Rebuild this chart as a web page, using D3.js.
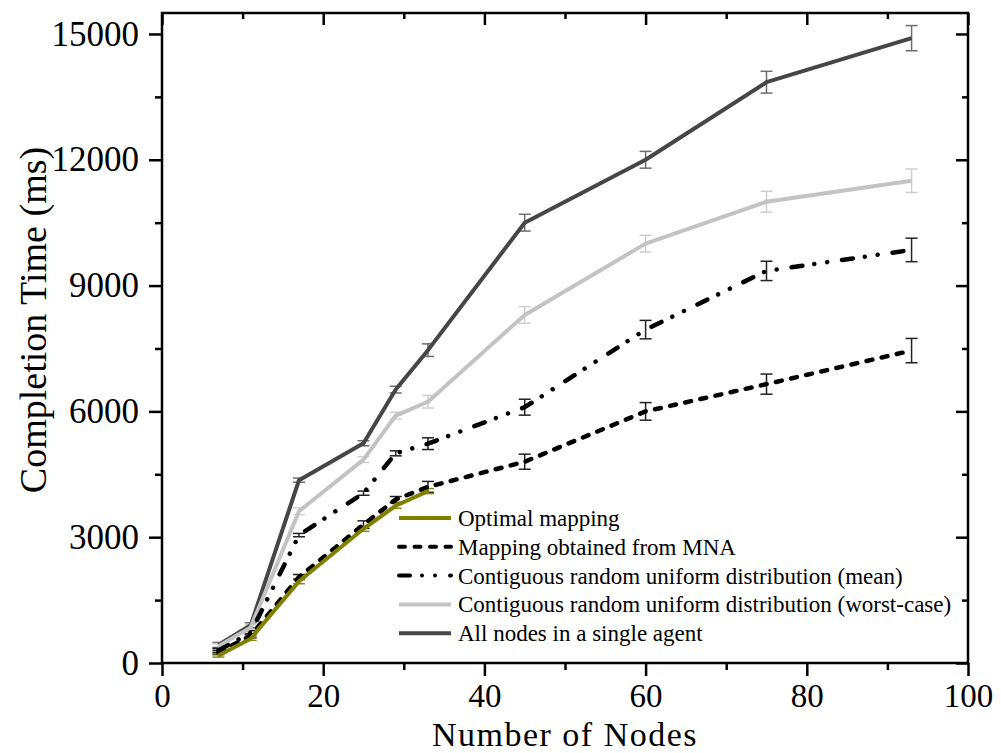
<!DOCTYPE html>
<html>
<head>
<meta charset="utf-8">
<script src="https://cdn.jsdelivr.net/npm/d3@7"></script>
<style>
  html, body { margin: 0; padding: 0; background: #fff; }
  svg { display: block; }
  text { font-family: "Liberation Serif", "Times New Roman", serif; fill: #000; }
</style>
</head>
<body>
<svg id="chart" width="1001" height="753"></svg>
<script>
// Number of nodes in each test topology
const nodes = [7, 11, 17, 25, 29, 33, 45, 60, 75, 93];
const nodesOptimal = [7, 11, 17, 25, 29, 33];

// Completion times (ms) and their error half-widths
const optimal      = [180, 580, 1950, 3200, 3750, 4100];
const optimalErr   = [40, 40, 60, 60, 60, 60];
const mna          = [250, 650, 2050, 3300, 3900, 4200, 4800, 6000, 6650, 7450];
const mnaErr       = [50, 50, 60, 90, 70, 130, 180, 210, 240, 290];
const meanRand     = [300, 720, 3050, 4050, 5000, 5230, 6100, 7950, 9350, 9850];
const meanRandErr  = [50, 50, 40, 50, 60, 140, 190, 220, 230, 280];
const worstRand    = [400, 850, 3620, 4850, 5900, 6230, 8300, 10000, 11000, 11500];
const worstRandErr = [60, 60, 80, 70, 80, 150, 200, 200, 250, 280];
const singleAgent  = [430, 900, 4360, 5240, 6520, 7460, 10500, 12000, 13850, 14900];
const singleErr    = [60, 60, 50, 60, 80, 150, 200, 200, 260, 300];

const xTicks = [0, 20, 40, 60, 80, 100];
const xMinor = [10, 30, 50, 70, 90];
const yTicks = [0, 3000, 6000, 9000, 12000, 15000];
const yMinor = [1500, 4500, 7500, 10500, 13500];

const legendLabels = [
  "Optimal mapping",
  "Mapping obtained from MNA",
  "Contiguous random uniform distribution (mean)",
  "Contiguous random uniform distribution (worst-case)",
  "All nodes in a single agent"
];

const series = [
  { xs: nodes, ys: singleAgent, err: singleErr, color: "#464646", bar: "#6e6e6e", dash: null },
  { xs: nodes, ys: worstRand, err: worstRandErr, color: "#c3c3c3", bar: "#cfcfcf", dash: null },
  { xs: nodes, ys: meanRand, err: meanRandErr, color: "#000", bar: "#222", dash: "11,12,0.01,13,0.01,15" },
  { xs: nodes, ys: mna, err: mnaErr, color: "#000", bar: "#222", dash: "6,9.5" },
  { xs: nodesOptimal, ys: optimal, err: optimalErr, color: "#808000", bar: "#8a8a10", dash: null }
];
const legendOrder = [4, 3, 2, 1, 0];

const svg = d3.select("#chart");
const plotL = 162, plotR = 968, plotT = 13, plotB = 663;

const x = d3.scaleLinear().domain([0, 100]).range([plotL, plotR]);
const y = d3.scaleLinear().domain([0, 15500]).range([plotB, plotT]);

// Error bars
series.forEach(s => {
  const g = svg.append("g");
  s.xs.forEach((xv, i) => {
    const cx = x(xv), y1 = y(s.ys[i] + s.err[i]), y0 = y(s.ys[i] - s.err[i]);
    g.append("line").attr("x1", cx).attr("x2", cx).attr("y1", y0).attr("y2", y1)
      .attr("stroke", s.bar).attr("stroke-width", 1.5);
    [y0, y1].forEach(yy => g.append("line")
      .attr("x1", cx - 6).attr("x2", cx + 6).attr("y1", yy).attr("y2", yy)
      .attr("stroke", s.bar).attr("stroke-width", 1.5));
  });
});

// Lines
const line = d3.line().x(d => x(d[0])).y(d => y(d[1]));
series.forEach(s => {
  svg.append("path")
    .datum(s.xs.map((xv, i) => [xv, s.ys[i]]))
    .attr("d", line)
    .attr("fill", "none")
    .attr("stroke", s.color)
    .attr("stroke-width", s.dash ? 4.5 : 4)
    .attr("stroke-linejoin", "round")
    .attr("stroke-linecap", s.dash ? "round" : "butt")
    .attr("stroke-dasharray", s.dash);
});

// Axes
const axisW = 2.5;
const bottomAxis = svg.append("g").attr("transform", `translate(0,${plotB})`)
  .call(d3.axisBottom(x).tickValues(xTicks).tickSize(13).tickPadding(8).tickFormat(d3.format("d")));
const bottomMinor = svg.append("g").attr("transform", `translate(0,${plotB})`)
  .call(d3.axisBottom(x).tickValues(xMinor).tickSize(7).tickFormat(""));
const leftAxis = svg.append("g").attr("transform", `translate(${plotL},0)`)
  .call(d3.axisLeft(y).tickValues(yTicks).tickSize(13).tickPadding(10).tickFormat(d3.format("d")));
const leftMinor = svg.append("g").attr("transform", `translate(${plotL},0)`)
  .call(d3.axisLeft(y).tickValues(yMinor).tickSize(7).tickFormat(""));
const topAxis = svg.append("g").attr("transform", `translate(0,${plotT})`)
  .call(d3.axisBottom(x).tickValues(xTicks).tickSize(12).tickFormat(""));
const topMinor = svg.append("g").attr("transform", `translate(0,${plotT})`)
  .call(d3.axisBottom(x).tickValues(xMinor).tickSize(6).tickFormat(""));
const rightAxis = svg.append("g").attr("transform", `translate(${plotR},0)`)
  .call(d3.axisLeft(y).tickValues(yTicks).tickSize(12).tickFormat(""));
const rightMinor = svg.append("g").attr("transform", `translate(${plotR},0)`)
  .call(d3.axisLeft(y).tickValues(yMinor).tickSize(6).tickFormat(""));

[bottomAxis, bottomMinor, leftAxis, leftMinor, topAxis, topMinor, rightAxis, rightMinor].forEach(g => {
  g.select(".domain").remove();
  g.selectAll(".tick line").attr("stroke", "#000").attr("stroke-width", 2.5);
});
bottomAxis.selectAll("text").attr("font-size", 33).attr("font-family", "Liberation Serif").attr("fill", "#000");
leftAxis.selectAll("text").attr("font-size", 35).attr("font-family", "Liberation Serif").attr("fill", "#000");

// Frame
svg.append("rect").attr("x", plotL).attr("y", plotT)
  .attr("width", plotR - plotL).attr("height", plotB - plotT)
  .attr("fill", "none").attr("stroke", "#000").attr("stroke-width", axisW);

// Axis titles
svg.append("text").attr("x", (plotL + plotR) / 2).attr("y", 745.5)
  .attr("text-anchor", "middle").attr("font-size", 34).attr("letter-spacing", 1.5)
  .text("Number of Nodes");
svg.append("text").attr("transform", "translate(46,320) rotate(-90)")
  .attr("text-anchor", "middle").attr("font-size", 38).text("Completion Time (ms)");

// Legend
const legend = svg.append("g");
legendOrder.forEach((si, k) => {
  const s = series[si];
  const ly = 518 + k * 28.8;
  legend.append("line").attr("x1", 399).attr("x2", 451).attr("y1", ly).attr("y2", ly)
    .attr("stroke", s.color).attr("stroke-width", 4)
    .attr("stroke-linecap", s.dash ? "round" : "butt")
    .attr("stroke-dasharray", s.dash);
  legend.append("text").attr("x", 458).attr("y", ly + 8)
    .attr("font-size", 23).text(legendLabels[k]);
});
</script>
</body>
</html>
